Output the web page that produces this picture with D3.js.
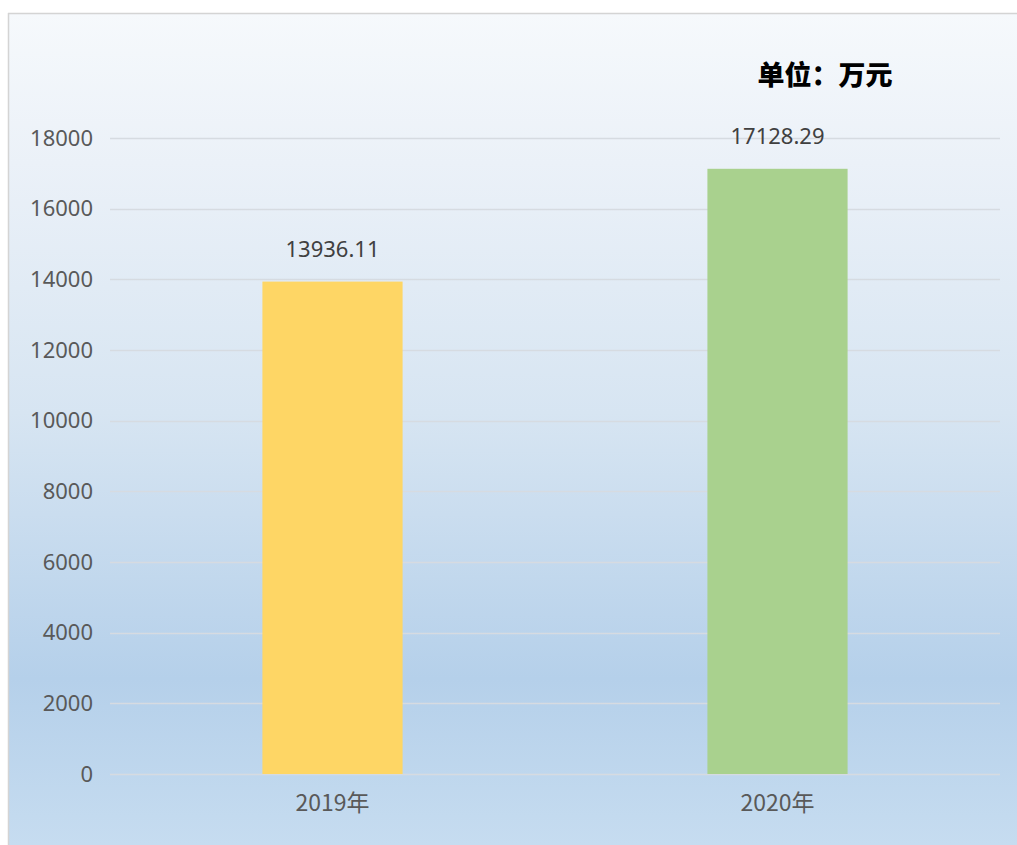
<!DOCTYPE html>
<html>
<head>
<meta charset="utf-8">
<script src="https://cdn.jsdelivr.net/npm/d3@7/dist/d3.min.js"></script>
<style>
	html, body { margin: 0; padding: 0; background: #ffffff; }
	svg { display: block; }
</style>
</head>
<body>
<div id="chart"></div>
<script>
//Chart data
var categories = ["2019年", "2020年"];
var values = [13936.11, 17128.29];
var barColors = ["#fed665", "#a9d18e"];
var yTicks = [0, 2000, 4000, 6000, 8000, 10000, 12000, 14000, 16000, 18000];
var unitLabel = "单位：万元";

//Global variables
var width = 1017;
var height = 845;
var margin = {top: 138, right: 17, bottom: 71, left: 110};
var plotW = width - margin.left - margin.right;
var plotH = height - margin.top - margin.bottom;

var svg = d3.select("#chart")
	.append("svg")
	.attr("width", width)
	.attr("height", height);

//Background gradient
var defs = svg.append("defs");
var grad = defs.append("linearGradient")
	.attr("id", "bg")
	.attr("x1", 0).attr("y1", 0)
	.attr("x2", 0).attr("y2", 1);
grad.append("stop").attr("offset", "0%").attr("stop-color", "#f6f9fc");
grad.append("stop").attr("offset", "18%").attr("stop-color", "#ebf1f8");
grad.append("stop").attr("offset", "48%").attr("stop-color", "#d7e5f2");
grad.append("stop").attr("offset", "80%").attr("stop-color", "#b5d0ea");
grad.append("stop").attr("offset", "100%").attr("stop-color", "#c6dcf0");

svg.append("rect")
	.attr("x", 8).attr("y", 13)
	.attr("width", width - 8).attr("height", height - 13)
	.attr("fill", "url(#bg)");

//Frame edges (top and left)
svg.append("line")
	.attr("x1", 8).attr("x2", width)
	.attr("y1", 13.5).attr("y2", 13.5)
	.attr("stroke", "#d4d4d4").attr("stroke-width", 1.5);
svg.append("line")
	.attr("x1", 8.5).attr("x2", 8.5)
	.attr("y1", 13).attr("y2", height)
	.attr("stroke", "#d4d4d4").attr("stroke-width", 1.5);

var g = svg.append("g")
	.attr("transform", "translate(" + margin.left + "," + margin.top + ")");

//Scales
var xScale = d3.scaleBand()
	.domain(categories)
	.range([0, plotW])
	.paddingInner(0.685)
	.paddingOuter(0.3425);

var yScale = d3.scaleLinear()
	.domain([0, 18000])
	.range([plotH, 0]);

//Gridlines
g.selectAll(".grid")
	.data(yTicks)
	.enter()
	.append("line")
	.attr("class", "grid")
	.attr("x1", 0)
	.attr("x2", plotW)
	.attr("y1", function(d) { return Math.round(yScale(d)) + 0.5; })
	.attr("y2", function(d) { return Math.round(yScale(d)) + 0.5; })
	.attr("stroke", "#d6dbe1")
	.attr("stroke-width", 1.5);

//Y axis
var yAxis = d3.axisLeft(yScale)
	.tickValues(yTicks)
	.tickSize(0)
	.tickPadding(17)
	.tickFormat(d3.format("d"));

var yG = g.append("g").call(yAxis);
yG.select(".domain").remove();
yG.selectAll("text")
	.attr("font-family", "'Noto Sans', sans-serif")
	.attr("font-size", 22)
	.attr("fill", "#595959");

//Bars
g.selectAll(".bar")
	.data(values)
	.enter()
	.append("rect")
	.attr("class", "bar")
	.attr("x", function(d, i) { return xScale(categories[i]); })
	.attr("y", function(d) { return yScale(d); })
	.attr("width", xScale.bandwidth())
	.attr("height", function(d) { return plotH - yScale(d); })
	.attr("fill", function(d, i) { return barColors[i]; });

//Value labels
g.selectAll(".valueLabel")
	.data(values)
	.enter()
	.append("text")
	.attr("class", "valueLabel")
	.attr("x", function(d, i) { return xScale(categories[i]) + xScale.bandwidth() / 2; })
	.attr("y", function(d) { return yScale(d) - 25; })
	.attr("text-anchor", "middle")
	.attr("font-family", "'Noto Sans', sans-serif")
	.attr("font-size", 22)
	.attr("fill", "#404040")
	.text(function(d) { return d3.format(".2f")(d); });

//X axis labels
var xAxis = d3.axisBottom(xScale)
	.tickSize(0)
	.tickPadding(21);

var xG = g.append("g")
	.attr("transform", "translate(0," + plotH + ")")
	.call(xAxis);
xG.select(".domain").remove();
xG.selectAll("text")
	.attr("font-family", "'Noto Sans CJK SC', 'Noto Sans', sans-serif")
	.attr("font-size", 23)
	.attr("fill", "#595959");

//Unit label
svg.append("text")
	.attr("x", 825)
	.attr("y", 85)
	.attr("text-anchor", "middle")
	.attr("font-family", "'Noto Sans CJK SC', sans-serif")
	.attr("font-weight", 900)
	.attr("font-size", 27)
	.attr("fill", "#000000")
	.text(unitLabel);
</script>
</body>
</html>
